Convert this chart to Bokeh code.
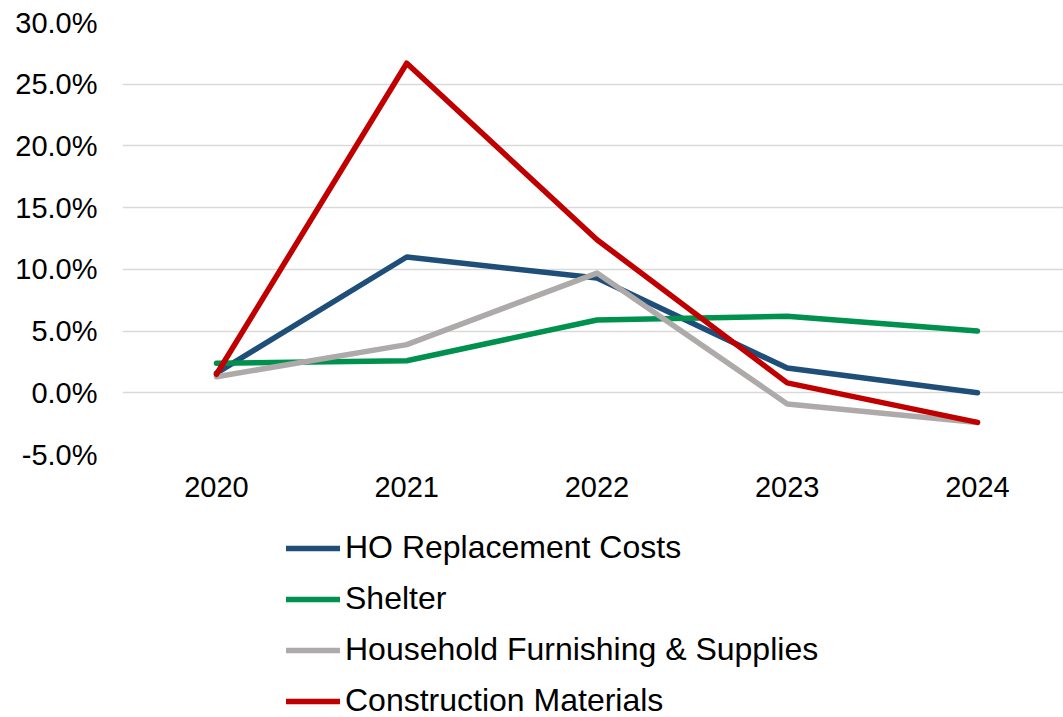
from bokeh.plotting import figure
from bokeh.layouts import column
from bokeh.models import Legend, LegendItem, NumeralTickFormatter, FixedTicker, Range1d
from bokeh.embed import file_html
from bokeh.resources import INLINE

# Annual change by cost index, in percent
years = ["2020", "2021", "2022", "2023", "2024"]
ho_replacement = [1.6, 11.0, 9.3, 2.0, 0.0]
shelter = [2.4, 2.6, 5.9, 6.2, 5.0]
household_furnishing = [1.3, 3.9, 9.7, -0.9, -2.4]
construction_materials = [1.5, 26.7, 12.4, 0.8, -2.4]

series = [
    ("HO Replacement Costs", ho_replacement, "#1F4E79"),
    ("Shelter", shelter, "#00914F"),
    ("Household Furnishing & Supplies", household_furnishing, "#AEAAAA"),
    ("Construction Materials", construction_materials, "#C00000"),
]

FONT = "Liberation Sans"
W = 1063
CHART_H, LEGEND_H = 520, 197
LINE_W = 5.5

# --- main chart ---
p = figure(width=W, height=CHART_H, output_backend="svg", toolbar_location=None,
           min_border_left=122, min_border_right=0, min_border_top=22,
           min_border_bottom=CHART_H - 454)
p.x_range = Range1d(-0.494, 4.452)
p.y_range = Range1d(-0.05, 0.30)
p.outline_line_color = None
p.background_fill_color = "white"
p.border_fill_color = "white"

xs = list(range(len(years)))
for name, vals, color in series:
    p.line(xs, [v / 100 for v in vals], line_color=color, line_width=LINE_W,
           line_join="round", line_cap="round")

p.xgrid.visible = False
p.ygrid.grid_line_color = "#D9D9D9"
p.ygrid.grid_line_width = 1.5

p.yaxis.ticker = FixedTicker(ticks=[-0.05, 0, 0.05, 0.10, 0.15, 0.20, 0.25, 0.30])
p.yaxis.formatter = NumeralTickFormatter(format="0.0%")
p.xaxis.ticker = FixedTicker(ticks=xs)
p.xaxis.major_label_overrides = {i: y for i, y in enumerate(years)}
for ax in (p.xaxis, p.yaxis):
    ax.axis_line_color = None
    ax.major_tick_line_color = None
    ax.minor_tick_line_color = None
    ax.major_tick_out = 0
    ax.major_tick_in = 0
    ax.major_label_text_font = FONT
    ax.major_label_text_font_size = "29px"
    ax.major_label_text_color = "#000000"
p.yaxis.major_label_standoff = 25
p.xaxis.major_label_standoff = 22

# --- legend strip beneath the chart ---
lg = figure(width=W, height=LEGEND_H, output_backend="svg", toolbar_location=None,
            x_axis_type=None, y_axis_type=None,
            min_border_left=0, min_border_right=0, min_border_top=0,
            min_border_bottom=0)
lg.x_range = Range1d(0, 1)
lg.y_range = Range1d(0, 1)
lg.outline_line_color = None
lg.xgrid.visible = False
lg.ygrid.visible = False

# off-range swatch lines that only carry each series' style for the legend
items = []
for name, vals, color in series:
    r = lg.line([-10, -9], [-10, -10], line_color=color, line_width=LINE_W,
                line_cap="round")
    items.append(LegendItem(label=name, renderers=[r]))

legend = Legend(items=items, location=(164, -2), orientation="vertical",
                label_text_font=FONT, label_text_font_size="32px",
                label_text_color="#000000", glyph_width=54, glyph_height=28,
                label_height=28, label_standoff=5, spacing=14,
                padding=0, margin=0, border_line_color=None,
                background_fill_alpha=0)
lg.add_layout(legend, "center")

open("out.html", "w").write(file_html(column(p, lg, spacing=0), INLINE))
